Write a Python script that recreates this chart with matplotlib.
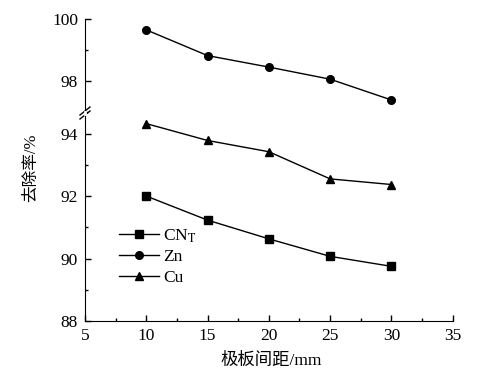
import matplotlib.pyplot as plt
from matplotlib.lines import Line2D

plt.rcParams['font.family'] = ['Liberation Serif', 'Noto Sans CJK SC']
plt.rcParams['mathtext.fontset'] = 'stix'

# data
spacing = [10, 15, 20, 25, 30]
cnt = [92.0, 91.23, 90.63, 90.07, 89.75]
zn = [99.65, 98.82, 98.45, 98.06, 97.39]
cu = [94.32, 93.78, 93.42, 92.55, 92.37]

fig = plt.figure(figsize=(4.82, 3.8), dpi=100)
W, H = 482, 380
x0, x1 = 85, 452.7
y_top, y_brk, y_bot = 19, 113, 321

ax_lo = fig.add_axes([x0 / W, 1 - y_bot / H, (x1 - x0) / W, (y_bot - y_brk) / H])
ax_hi = fig.add_axes([x0 / W, 1 - y_brk / H, (x1 - x0) / W, (y_brk - y_top) / H])

style = dict(color='black', lw=1.0, ms=5.5)
for ax in (ax_lo, ax_hi):
    ax.plot(spacing, cnt, marker='s', **style)
    ax.plot(spacing, zn, marker='o', **style)
    ax.plot(spacing, cu, marker='^', **style)
    ax.set_xlim(5, 35)
    for s in ('top', 'right'):
        ax.spines[s].set_visible(False)
    ax.tick_params(direction='in', labelsize=12.5, length=4, width=1, pad=5)
    ax.tick_params(which='minor', direction='in', length=2.5, width=1)
    ax.set_facecolor('none')

ax_lo.set_ylim(88, 94.66)
ax_lo.set_yticks([88, 90, 92, 94])
ax_lo.set_yticks([89, 91, 93], minor=True)
ax_lo.set_xticks([5, 10, 15, 20, 25, 30, 35])
ax_lo.set_xticks([7.5, 12.5, 17.5, 22.5, 27.5, 32.5], minor=True)

ax_hi.set_ylim(96.97, 100)
ax_hi.set_yticks([98, 100])
ax_hi.set_yticks([97, 99], minor=True)
ax_hi.spines['bottom'].set_visible(False)
ax_hi.set_xticks([])
ax_hi.set_xticks([], minor=True)

# axis break marks
for dy in (-2, 2):
    yb = 1 - (y_brk + dy) / H
    fig.add_artist(Line2D([(x0 - 5) / W, (x0 + 5) / W],
                          [yb - 4 / H, yb + 4 / H], color='black', lw=1.0))
fig.add_artist(Line2D([x0 / W, x0 / W], [1 - (y_brk + 1) / H, 1 - (y_brk - 1) / H],
                      color='white', lw=2))

handles = [Line2D([], [], marker=m, **style) for m in ('s', 'o', '^')]
ax_lo.legend(handles, ['CN$_{\\mathrm{T}}$', 'Zn', 'Cu'], loc='center left',
             bbox_to_anchor=(0.07, 0.31), frameon=False, fontsize=12.5,
             borderpad=0, handlelength=2.3, handletextpad=0.2, labelspacing=0.25)

fig.text(31 / W, 1 - 168 / H, '去除率/%', rotation=90, ha='center', va='center',
         fontsize=12)
fig.text(271 / W, 1 - 361 / H, '极板间距/mm', ha='center', va='center',
         fontsize=12.5)

fig.savefig('out.png', dpi=100)
